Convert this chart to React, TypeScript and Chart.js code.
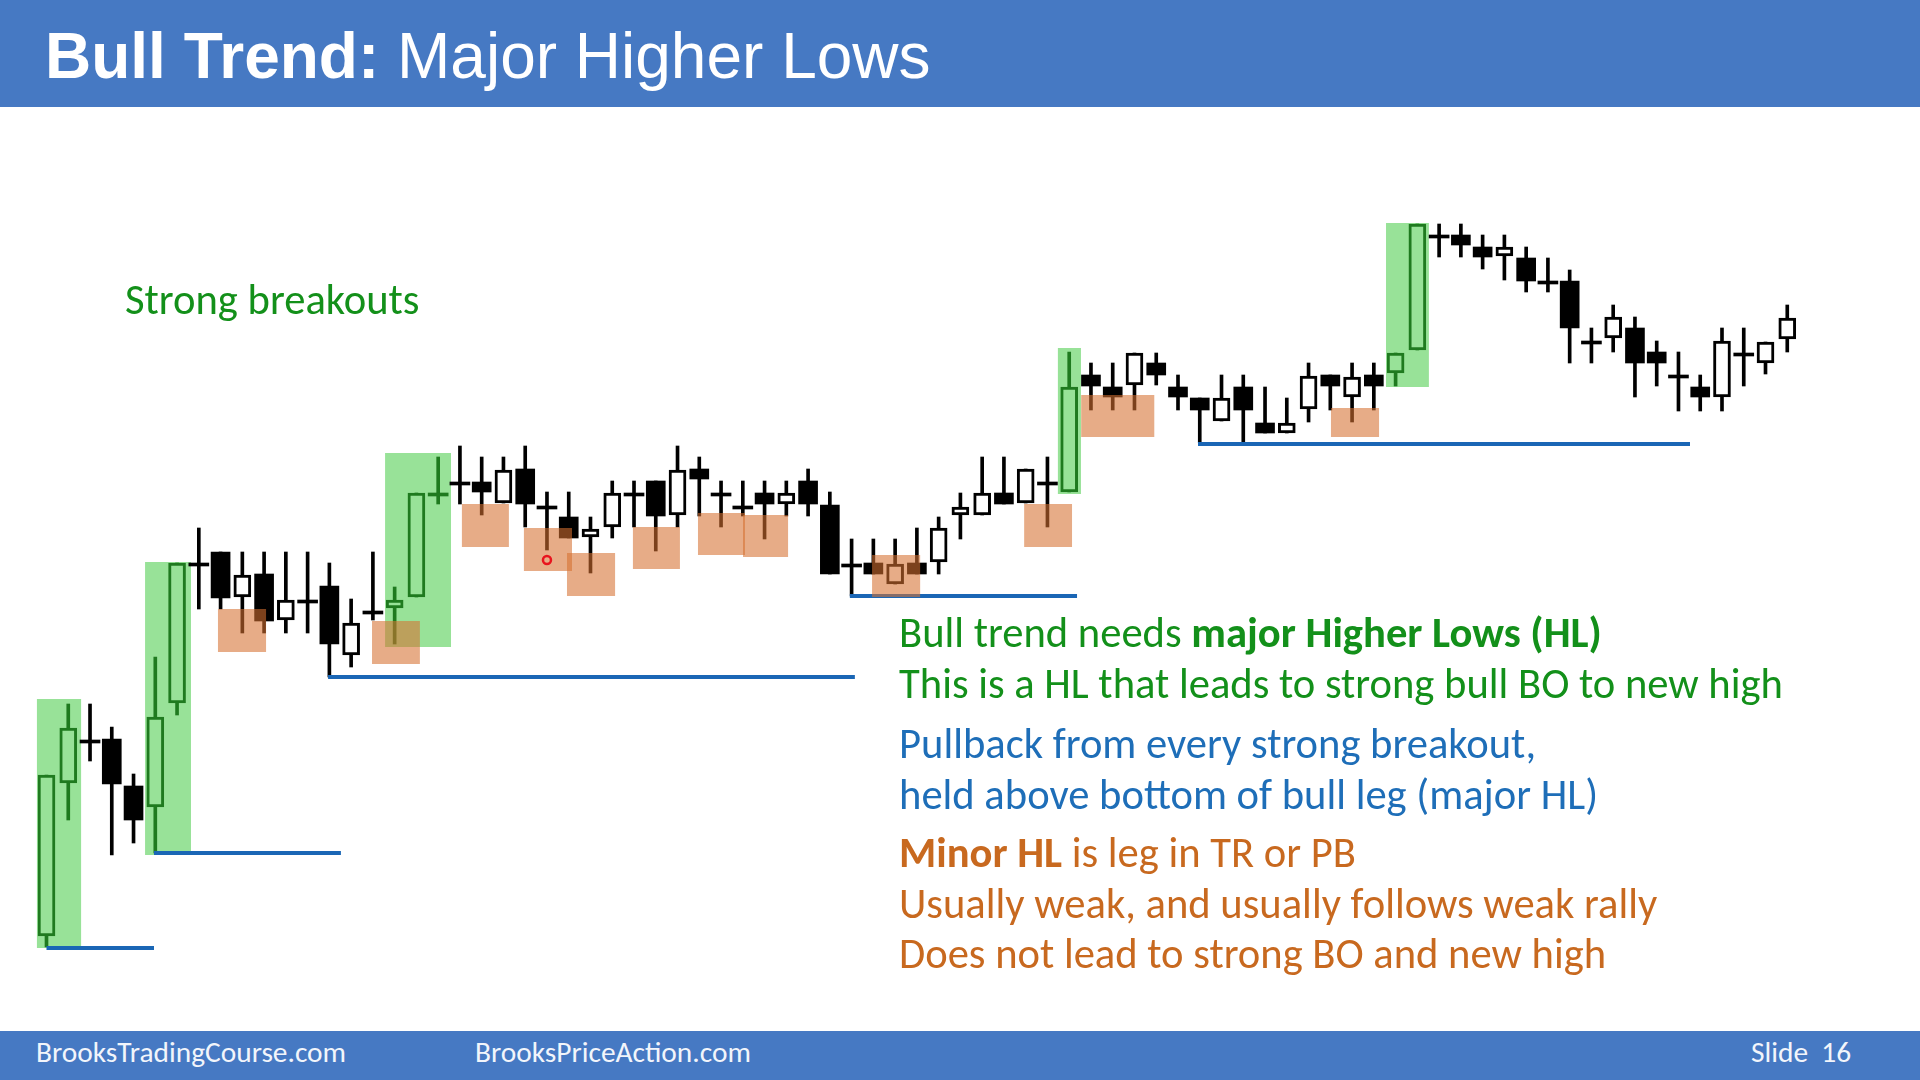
import React, { useEffect, useRef } from "react";
import { Chart, registerables } from "chart.js";

Chart.register(...registerables);

// ---- candle data (price units) ----
const opens = [
  6.4, 21.7, 26.0, 26.1, 21.4, 19.3, 29.7, 43.7, 44.8, 40.3,
  42.6, 38.0, 40.0, 41.4, 34.5, 38.9, 39.2, 40.3, 50.7, 51.8,
  51.8, 49.7, 53.1, 49.4, 48.3, 46.3, 47.3, 50.7, 51.9, 48.5,
  53.1, 50.7, 49.4, 50.7, 49.6, 51.9, 49.5, 43.6, 43.7, 41.6,
  43.7, 43.8, 48.5, 48.5, 50.7, 49.7, 51.8, 50.8, 62.5, 61.3,
  61.5, 63.7, 61.3, 60.2, 57.9, 61.3, 57.7, 56.7, 59.1, 62.5,
  60.3, 62.5, 62.7, 65.0, 76.5, 76.5, 75.3, 74.4, 74.2, 71.9,
  71.9, 65.9, 66.2, 67.2, 64.8, 62.5, 61.3, 60.3, 64.7, 63.7, 66.1,
];
const highs = [
  22.5, 29.6, 29.6, 27.3, 22.6, 34.3, 43.7, 47.2, 44.8, 44.8,
  44.8, 44.8, 44.8, 43.7, 40.1, 44.8, 41.3, 50.7, 54.3, 55.4,
  54.3, 54.3, 55.4, 50.8, 50.8, 48.3, 51.9, 51.9, 51.9, 55.4,
  54.3, 51.9, 51.9, 51.9, 51.9, 53.1, 50.8, 46.1, 46.1, 46.1,
  47.2, 48.3, 50.7, 54.3, 54.3, 53.1, 54.3, 64.8, 63.7, 63.7,
  64.7, 64.7, 62.5, 60.2, 62.5, 62.5, 61.3, 60.2, 63.7, 62.5,
  63.7, 63.7, 64.7, 77.6, 77.6, 77.6, 76.5, 76.5, 75.3, 74.2,
  73.0, 67.2, 69.5, 68.3, 65.9, 64.8, 62.5, 67.2, 67.2, 65.8, 69.5,
];
const lows = [
  5.3, 18.0, 23.9, 14.5, 15.7, 14.7, 28.5, 39.1, 39.1, 36.7,
  36.7, 36.7, 36.7, 32.3, 33.3, 38.0, 35.6, 40.3, 49.6, 49.6,
  48.5, 49.7, 47.3, 45.0, 46.2, 42.7, 46.2, 47.3, 44.9, 47.3,
  48.4, 47.3, 48.4, 46.1, 48.4, 48.4, 42.6, 40.4, 42.6, 41.6,
  42.6, 42.6, 46.1, 48.5, 49.6, 49.7, 47.3, 50.8, 59.0, 59.0,
  59.0, 61.5, 59.0, 55.7, 57.9, 55.8, 56.7, 56.7, 57.8, 59.0,
  57.8, 59.0, 61.4, 65.0, 74.3, 74.3, 73.1, 72.0, 70.8, 70.8,
  63.7, 63.7, 64.8, 60.3, 61.4, 58.9, 58.9, 58.9, 61.4, 62.6, 64.8,
];
const closes = [
  22.5, 27.2, 26.0, 21.6, 18.0, 28.3, 43.7, 43.7, 40.2, 42.5,
  37.9, 40.0, 40.0, 35.6, 37.7, 38.9, 40.0, 50.7, 50.7, 51.8,
  50.8, 53.0, 49.6, 49.4, 46.2, 47.1, 50.7, 50.7, 48.4, 53.0,
  52.1, 50.7, 49.4, 49.6, 50.7, 49.6, 42.6, 43.6, 42.6, 43.6,
  42.6, 47.2, 49.3, 50.7, 49.6, 53.1, 51.8, 61.3, 61.4, 60.3,
  64.7, 62.5, 60.3, 59.0, 60.2, 59.0, 56.7, 57.7, 62.4, 61.4,
  62.3, 61.4, 64.7, 77.6, 76.5, 75.5, 74.3, 75.3, 71.9, 71.9,
  67.2, 65.9, 68.3, 63.7, 63.7, 62.5, 60.3, 65.9, 64.7, 65.8, 68.2,
];
// bars (1-based) drawn as strong breakout bars
const greenCandles = [1, 2, 6, 7, 17, 18, 19, 48, 63, 64];

// strong breakout zones: [fromBar, toBar, low, high]
const breakoutZones = [
  [0.56, 2.59, 5.2, 30.1],
  [5.53, 7.64, 14.5, 43.8],
  [16.56, 19.59, 35.3, 54.7],
  [47.48, 48.54, 50.6, 65.2],
  [62.56, 64.53, 61.3, 77.7],
];
// minor higher-low zones: [fromBar, toBar, low, high]
const minorZones = [
  [8.88, 11.09, 34.8, 39.1],
  [15.96, 18.16, 33.6, 37.9],
  [20.09, 22.25, 45.3, 49.6],
  [22.94, 25.15, 42.9, 47.2],
  [24.92, 27.13, 40.4, 44.7],
  [27.95, 30.11, 43.1, 47.3],
  [30.94, 33.1, 44.5, 48.7],
  [33.01, 35.08, 44.3, 48.5],
  [38.94, 41.15, 40.3, 44.5],
  [45.93, 48.13, 45.3, 49.6],
  [48.55, 51.91, 56.3, 60.5],
  [60.03, 62.24, 56.3, 59.2],
];
// major higher-low lines: [fromBar, toBar, price]
const majorLows = [
  [1.0, 5.94, 5.2],
  [5.94, 14.53, 14.7],
  [13.94, 38.15, 32.3],
  [37.92, 48.36, 40.4],
  [53.92, 76.53, 55.6],
];
// pointer mark: [bar, price]
const pointerMark = [24.0, 44.0];

const X_MIN = -1.137;
const X_MAX = 87.1;
const Y_MIN = -8;
const Y_MAX = 100;

const GREEN_DARK = "#1f7a1f";
const GREEN_FILL = "#98e298";
const ORANGE_FILL = "rgba(214,112,48,0.58)";
const BLUE_LINE = "#1a66b5";

const zonesPlugin = {
  id: "zones",
  beforeDatasetsDraw(chart: any) {
    const { ctx, scales } = chart;
    const xs = scales.x;
    const ys = scales.y;
    ctx.save();
    ctx.fillStyle = GREEN_FILL;
    breakoutZones.forEach(([a, b, lo, hi]) => {
      const x1 = xs.getPixelForValue(a);
      const x2 = xs.getPixelForValue(b);
      const y1 = ys.getPixelForValue(hi);
      const y2 = ys.getPixelForValue(lo);
      ctx.fillRect(x1, y1, x2 - x1, y2 - y1);
    });
    ctx.restore();
  },
  afterDatasetsDraw(chart: any) {
    const { ctx, scales } = chart;
    const xs = scales.x;
    const ys = scales.y;
    ctx.save();
    ctx.fillStyle = ORANGE_FILL;
    minorZones.forEach(([a, b, lo, hi]) => {
      const x1 = xs.getPixelForValue(a);
      const x2 = xs.getPixelForValue(b);
      const y1 = ys.getPixelForValue(hi);
      const y2 = ys.getPixelForValue(lo);
      ctx.fillRect(x1, y1, x2 - x1, y2 - y1);
    });
    ctx.strokeStyle = "#e8141e";
    ctx.lineWidth = 2.5;
    ctx.beginPath();
    ctx.arc(xs.getPixelForValue(pointerMark[0]), ys.getPixelForValue(pointerMark[1]), 4, 0, Math.PI * 2);
    ctx.stroke();
    ctx.restore();
  },
};

const MAIN_FONT = 'Carlito, Lato, "Open Sans", sans-serif';
const TITLE_FONT = '"Liberation Sans", Arial, sans-serif';

function Line(props: { left: number; baseline: number; size: number; color: string; children: any; font?: string; asc?: number }) {
  const asc = props.asc ?? 0.887;
  return (
    <div
      style={{
        position: "absolute",
        left: props.left,
        top: props.baseline - asc * props.size,
        fontSize: props.size,
        lineHeight: 1,
        color: props.color,
        fontFamily: props.font ?? MAIN_FONT,
        whiteSpace: "pre",
      }}
    >
      {props.children}
    </div>
  );
}

export default function App() {
  const ref = useRef<HTMLCanvasElement>(null);

  useEffect(() => {
    const wickBlack: any[] = [];
    const wickGreen: any[] = [];
    const bodyBlack: any[] = [];
    const bodyWhite: any[] = [];
    const bodyGreen: any[] = [];
    const dojis: any[] = [];
    const dojiColors: string[] = [];
    for (let k = 0; k < opens.length; k++) {
      const x = k + 1;
      const green = greenCandles.includes(x);
      (green ? wickGreen : wickBlack).push({ x, y: [lows[k], highs[k]] });
      if (opens[k] === closes[k]) {
        dojis.push({ x, y: [opens[k], closes[k]] });
        dojiColors.push(green ? GREEN_DARK : "#000000");
      } else if (green) {
        bodyGreen.push({ x, y: [opens[k], closes[k]] });
      } else if (closes[k] > opens[k]) {
        bodyWhite.push({ x, y: [opens[k], closes[k]] });
      } else {
        bodyBlack.push({ x, y: [opens[k], closes[k]] });
      }
    }

    const lineSets = majorLows.map(([a, b, p]) => ({
      type: "line" as const,
      data: [
        { x: a, y: p },
        { x: b, y: p },
      ],
      borderColor: BLUE_LINE,
      borderWidth: 4,
      pointRadius: 0,
      fill: false,
      order: 0,
    }));

    const chart = new Chart(ref.current!, {
      type: "bar",
      data: {
        datasets: [
          ...lineSets,
          {
            type: "bar",
            data: dojis,
            backgroundColor: dojiColors,
            barThickness: 20,
            minBarLength: 3,
            order: 1,
          },
          {
            type: "bar",
            data: bodyBlack,
            backgroundColor: "#000000",
            barThickness: 19,
            order: 1,
          },
          {
            type: "bar",
            data: bodyWhite,
            backgroundColor: "#ffffff",
            borderColor: "#000000",
            borderWidth: 3,
            borderSkipped: false,
            barThickness: 17,
            order: 1,
          },
          {
            type: "bar",
            data: bodyGreen,
            backgroundColor: GREEN_FILL,
            borderColor: GREEN_DARK,
            borderWidth: 3,
            borderSkipped: false,
            barThickness: 17,
            order: 1,
          },
          {
            type: "bar",
            data: wickBlack,
            backgroundColor: "#000000",
            barThickness: 3,
            order: 2,
          },
          {
            type: "bar",
            data: wickGreen,
            backgroundColor: GREEN_DARK,
            barThickness: 3,
            order: 2,
          },
        ] as any,
      },
      options: {
        responsive: false,
        animation: false,
        devicePixelRatio: 1,
        layout: { padding: 0 },
        datasets: { bar: { grouped: false } } as any,
        plugins: { legend: { display: false }, tooltip: { enabled: false }, title: { display: false } },
        scales: {
          x: { type: "linear", min: X_MIN, max: X_MAX, display: false, offset: false },
          y: { type: "linear", min: Y_MIN, max: Y_MAX, display: false },
        },
      },
      plugins: [zonesPlugin],
    });
    return () => chart.destroy();
  }, []);

  const green = "#13901a";
  const blue = "#1e6eb8";
  const orange = "#c8691f";
  const mainSize = 42.6;
  const footSize = 29.4;

  return (
    <div style={{ position: "fixed", left: 0, top: 0, width: 1920, height: 1080, overflow: "hidden", background: "#ffffff" }}>
      <canvas ref={ref} width={1920} height={1080} style={{ position: "absolute", left: 0, top: 0, width: 1920, height: 1080 }} />
      <div style={{ position: "absolute", left: 0, top: 0, width: 1920, height: 107, background: "#4679c3" }} />
      <Line left={45} baseline={78} size={64} color="#ffffff" font={TITLE_FONT} asc={0.8465}>
        <span style={{ fontWeight: 700 }}>Bull Trend:</span> Major Higher Lows
      </Line>
      <div style={{ position: "absolute", left: 0, top: 1031, width: 1920, height: 49, background: "#4679c3" }} />
      <Line left={36} baseline={1064} size={footSize} color="#f2f5fb">BrooksTradingCourse.com</Line>
      <Line left={475} baseline={1064} size={footSize} color="#f2f5fb">BrooksPriceAction.com</Line>
      <Line left={1751} baseline={1064} size={footSize} color="#f2f5fb">{"Slide  16"}</Line>

      <Line left={125} baseline={316} size={mainSize} color={green}>Strong breakouts</Line>

      <Line left={899} baseline={649} size={mainSize} color={green}>
        Bull trend needs <span style={{ fontWeight: 700 }}>major Higher Lows (HL)</span>
      </Line>
      <Line left={899} baseline={700} size={mainSize} color={green}>This is a HL that leads to strong bull BO to new high</Line>
      <Line left={899} baseline={760} size={mainSize} color={blue}>Pullback from every strong breakout,</Line>
      <Line left={899} baseline={811} size={mainSize} color={blue}>held above bottom of bull leg (major HL)</Line>
      <Line left={899} baseline={869} size={mainSize} color={orange}>
        <span style={{ fontWeight: 700 }}>Minor HL</span> is leg in TR or PB
      </Line>
      <Line left={899} baseline={920} size={mainSize} color={orange}>Usually weak, and usually follows weak rally</Line>
      <Line left={899} baseline={970} size={mainSize} color={orange}>Does not lead to strong BO and new high</Line>
    </div>
  );
}
